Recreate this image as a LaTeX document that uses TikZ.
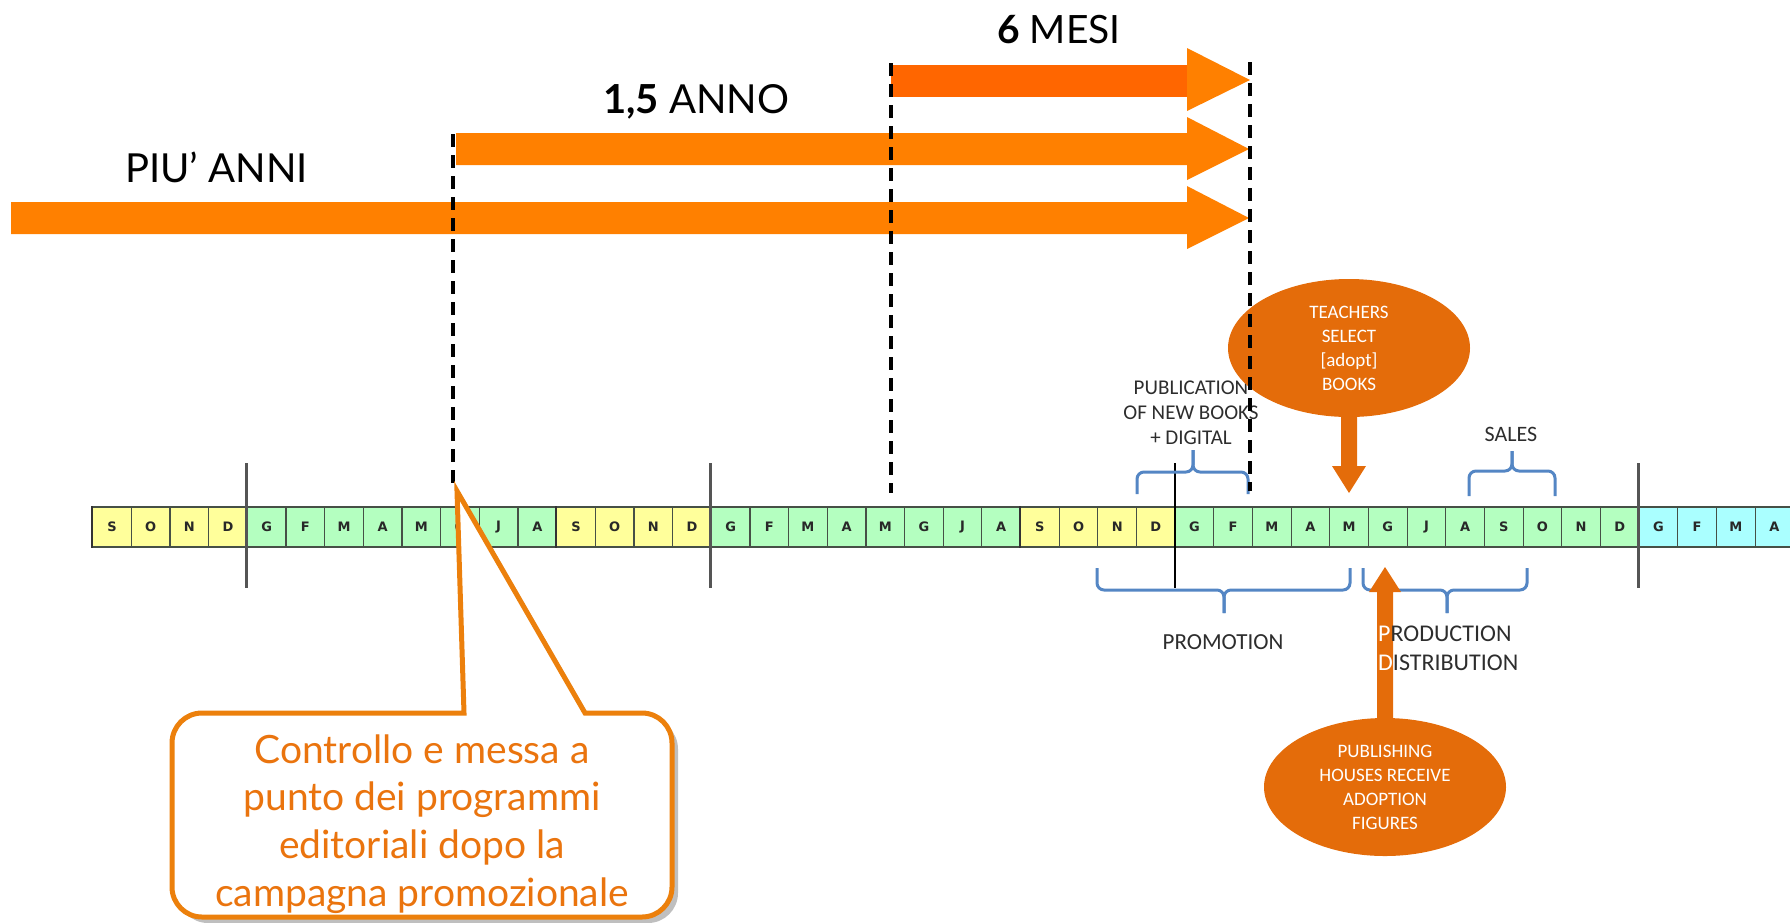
\documentclass[tikz,border=0pt]{standalone}
\usepackage{fontspec}
\setmainfont{Lato}
\newfontfamily\carl{Carlito}
\newfontfamily\celf{DejaVu Sans}
\usetikzlibrary{shapes.geometric,shadows,calc}
\definecolor{arrorange}{RGB}{255,128,0}
\definecolor{arrdark}{RGB}{255,102,0}
\definecolor{ellorange}{RGB}{228,108,10}
\definecolor{callorange}{RGB}{236,128,12}
\definecolor{calltext}{RGB}{234,116,14}
\definecolor{braceblue}{RGB}{84,134,196}
\definecolor{cyel}{RGB}{255,255,155}
\definecolor{cgrn}{RGB}{180,255,192}
\definecolor{ccya}{RGB}{170,255,255}
\definecolor{celledge}{RGB}{70,80,70}
\definecolor{celltext}{RGB}{40,40,40}
\definecolor{divgray}{RGB}{85,85,85}
\definecolor{lbltext}{RGB}{45,45,45}
\begin{document}
\begin{tikzpicture}[x=1pt,y=-1pt,
  bigarrow/.style={fill=arrorange},
  vdash/.style={draw=black,line width=4.5pt,dash pattern=on 13pt off 8pt},
  toplabel/.style={anchor=base west,inner sep=0pt,font=\fontsize{40}{40}\selectfont},
  cell/.style={draw=celledge,line width=1.2pt,minimum width=38.66pt,minimum height=40pt,inner sep=0pt,font=\celf\bfseries\fontsize{13}{13}\selectfont,text=celltext},
  blockedge/.style={draw=black!80,line width=2.5pt},
  divider/.style={draw=divgray,line width=3.5pt},
  thindiv/.style={draw=black,line width=2pt},
  bracestyle/.style={draw=braceblue,line width=3pt,rounded corners=7pt},
  lbl/.style={font=\carl\fontsize{22}{26}\selectfont,text=lbltext,align=center,inner sep=0pt},
  oval/.style={ellipse,fill=ellorange,text=white,inner sep=0pt,align=center,font=\carl\fontsize{19}{24}\selectfont,minimum width=242pt,minimum height=138pt},
  ovalarrow/.style={fill=ellorange},
  callout/.style={draw=callorange,line width=5pt,fill=white,rounded corners=30pt,
     drop shadow={shadow xshift=6pt,shadow yshift=-6pt,opacity=0.25,fill=black}},
  ]
\useasboundingbox (0,0) rectangle (1790,922);

% --- top arrows ---
\fill[bigarrow] (11,202) -- (1187,202) -- (1187,186) -- (1249,218) -- (1187,249) -- (1187,234) -- (11,234) -- cycle;
\fill[bigarrow] (456,133) -- (1187,133) -- (1187,117) -- (1249,149) -- (1187,180) -- (1187,165) -- (456,165) -- cycle;
\fill[arrdark] (891,65) rectangle (1188,97);
\fill[bigarrow] (1187,48) -- (1250,80) -- (1187,111) -- cycle;

% --- top labels ---
\node[toplabel] (lpiu) at (125,182) {PIU’ ANNI};
\node[toplabel] (lanno) at (603,113) {{\bfseries 1,5} ANNO};
\node[toplabel,font=\fontsize{39}{39}\selectfont] (lmesi) at (997,43) {{\bfseries 6} MESI};

% --- month strip ---
\foreach \mo [count=\i from 0] in {S,O,N,D,G,F,M,A,M,G,J,A,S,O,N,D,G,F,M,A,M,G,J,A,S,O,N,D,G,F,M,A,M,G,J,A,S,O,N,D,G,F,M,A} {
  \pgfmathsetmacro\cx{92.7+38.66*\i+19.33}
  \ifnum\i<4 \def\cc{cyel}\else\ifnum\i<12 \def\cc{cgrn}\else\ifnum\i<16 \def\cc{cyel}\else\ifnum\i<24 \def\cc{cgrn}\else\ifnum\i<28 \def\cc{cyel}\else\ifnum\i<40 \def\cc{cgrn}\else\def\cc{ccya}\fi\fi\fi\fi\fi\fi
  \node[cell,fill=\cc] (c\i) at (\cx,527) {\mo};
}
\foreach \k in {0,12,24} {
  \draw[blockedge] (c\k.north west) -- (c\k.south west);
}
% year dividers
\foreach \k in {4,16,40} {
  \draw[divider] (c\k.west |- 0,463) -- (c\k.west |- 0,588);
}
\draw[thindiv] (c28.west |- 0,463) -- (c28.west |- 0,588);

% --- braces ---
\draw[bracestyle] (1137,494) |- (1193,472) -- (1193,450);
\draw[bracestyle] (1248,494) |- (1193,472) -- (1193,450);
\draw[bracestyle] (1469,496) |- (1512,471) -- (1512,451);
\draw[bracestyle] (1555,496) |- (1512,471) -- (1512,451);
\draw[bracestyle] (1097,568) |- (1224,590) -- (1224,613);
\draw[bracestyle] (1350,568) |- (1224,590) -- (1224,613);
\draw[bracestyle] (1363,568) |- (1447,590) -- (1447,613);
\draw[bracestyle] (1527,568) |- (1447,590) -- (1447,613);

% --- labels ---
\node[lbl,font=\carl\fontsize{21}{25}\selectfont] (lpub) at (1191,413) {PUBLICATION\\OF NEW BOOKS\\+ DIGITAL};
\node[lbl] (lsales) at (1511,434) {SALES};
\node[lbl,font=\carl\fontsize{23}{27}\selectfont] (lpromo) at (1223,642) {PROMOTION};

% --- ellipses and their arrows ---
\node[oval] (teach) at (1349,348) {TEACHERS\\SELECT\\{[adopt]}\\BOOKS};
\node[oval] (pubh) at (1385,787) {PUBLISHING\\HOUSES RECEIVE\\ADOPTION\\FIGURES};
\coordinate (tipA) at (teach.south |- 0,493);
\coordinate (tipB) at (pubh.north |- 0,567);
\fill[ovalarrow] ($(teach.south)+(-8,-4)$) -- ($(tipA)+(-8,-27)$) -- ($(tipA)+(-17,-27)$) -- (tipA)
   -- ($(tipA)+(17,-27)$) -- ($(tipA)+(8,-27)$) -- ($(teach.south)+(8,-4)$) -- cycle;
\fill[ovalarrow] ($(pubh.north)+(-8,4)$) -- ($(tipB)+(-8,25)$) -- ($(tipB)+(-16,25)$) -- (tipB)
   -- ($(tipB)+(16,25)$) -- ($(tipB)+(8,25)$) -- ($(pubh.north)+(8,4)$) -- cycle;
\node[lbl,font=\carl\fontsize{24}{29}\selectfont,align=left,anchor=west] (lprod) at (1378,648)
  {{\color{white}P}RODUCTION\\{\color{white}D}ISTRIBUTION};

% --- dashed markers ---
\draw[vdash] (453,134) -- (453,488);
\draw[vdash] (891,63) -- (891,493);
\draw[vdash] (1250,62) -- (1250,491);

% --- callout ---
\draw[callout] (620,713) -- (672,713) -- (672,917) -- (172,917) -- (172,713) -- (420,713)
   [sharp corners] -- (464,713) -- (457,491) -- (585,713) -- cycle;
\node[font=\fontsize{39}{47.7}\selectfont,text=calltext,align=center] (ctext) at (422,824)
  {Controllo e messa a\\punto dei programmi\\editoriali dopo la\\campagna promozionale};
\end{tikzpicture}
\end{document}
